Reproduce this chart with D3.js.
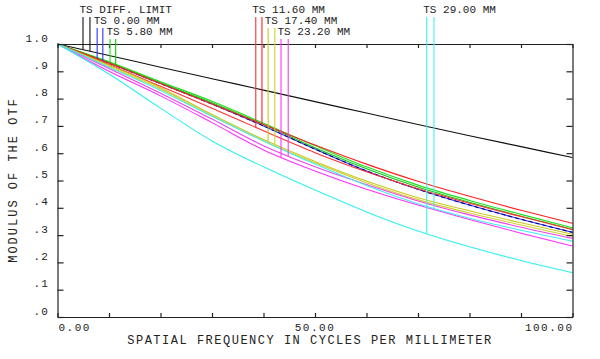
<!DOCTYPE html>
<html>
<head>
<meta charset="utf-8">
<script src="https://cdn.jsdelivr.net/npm/d3@7"></script>
<style>
  body { margin: 0; background: #fff; }
  text { font-family: "Liberation Mono", "DejaVu Sans Mono", monospace; fill: #222; }
</style>
</head>
<body>
<div id="mtf-graph"></div>
<script>
// spatial frequency samples (cycles/mm)
var freq = [0, 10, 20, 30, 40, 50, 60, 70, 80, 90, 100];

// modulus of the OTF
var diffLimit = [1, 0.958, 0.915, 0.873, 0.831, 0.789, 0.747, 0.705, 0.664, 0.624, 0.584];
var ts000T  = [1, 0.930, 0.855, 0.780, 0.700, 0.615, 0.535, 0.468, 0.410, 0.358, 0.310];
var ts000S  = [1, 0.930, 0.855, 0.780, 0.700, 0.615, 0.535, 0.468, 0.410, 0.358, 0.310];
var ts580T  = [1, 0.935, 0.862, 0.790, 0.710, 0.628, 0.550, 0.483, 0.427, 0.376, 0.327];
var ts580S  = [1, 0.932, 0.858, 0.785, 0.705, 0.620, 0.543, 0.476, 0.420, 0.369, 0.321];
var ts1160T = [1, 0.925, 0.845, 0.765, 0.682, 0.602, 0.532, 0.470, 0.417, 0.368, 0.320];
var ts1160S = [1, 0.930, 0.855, 0.780, 0.705, 0.630, 0.560, 0.497, 0.442, 0.391, 0.343];
var ts1740T = [1, 0.922, 0.840, 0.742, 0.650, 0.570, 0.498, 0.437, 0.389, 0.345, 0.303];
var ts1740S = [1, 0.918, 0.835, 0.737, 0.645, 0.565, 0.492, 0.430, 0.381, 0.337, 0.295];
var ts2320T = [1, 0.900, 0.810, 0.712, 0.612, 0.535, 0.468, 0.410, 0.357, 0.307, 0.260];
var ts2320S = [1, 0.910, 0.820, 0.725, 0.627, 0.550, 0.485, 0.425, 0.374, 0.329, 0.288];
var ts2900T = [1, 0.890, 0.765, 0.645, 0.550, 0.465, 0.385, 0.315, 0.257, 0.207, 0.162];
var ts2900S = [1, 0.915, 0.830, 0.735, 0.645, 0.560, 0.482, 0.415, 0.362, 0.318, 0.278];

// legend labels and where their two marker lines drop (cycles/mm)
var markerLabels = ["TS DIFF. LIMIT", "TS 0.00 MM", "TS 5.80 MM", "TS 11.60 MM", "TS 17.40 MM", "TS 23.20 MM", "TS 29.00 MM"];
var markerFreqs = [[4.95, 6.3], [7.7, 8.8], [10.2, 11.3], [38.5, 39.7], [40.9, 42.2], [43.4, 44.8], [71.7, 73.1]];
var markerRows = [0, 1, 2, 0, 1, 2, 0];

// tick labels
var xTickValues = [0, 50, 100];
var xTickLabels = ["0.00", "50.00", "100.00"];
var yTickValues = [0, 0.1, 0.2, 0.3, 0.4, 0.5, 0.6, 0.7, 0.8, 0.9, 1.0];
var yTickLabels = [".0", ".1", ".2", ".3", ".4", ".5", ".6", ".7", ".8", ".9", "1.0"];

var series = [
    { key: "diff", color: "#111111", values: diffLimit },
    { key: "t000", color: "#3030ff", values: ts000T },
    { key: "s000", color: "#000080", values: ts000S, dash: "4,3" },
    { key: "t580", color: "#20e020", values: ts580T },
    { key: "s580", color: "#10c810", values: ts580S },
    { key: "t1160", color: "#ff3030", values: ts1160T },
    { key: "s1160", color: "#ff2020", values: ts1160S },
    { key: "t1740", color: "#c8c820", values: ts1740T },
    { key: "s1740", color: "#d0d030", values: ts1740S },
    { key: "t2320", color: "#ff30ff", values: ts2320T },
    { key: "s2320", color: "#f040f0", values: ts2320S },
    { key: "t2900", color: "#30f0f0", values: ts2900T },
    { key: "s2900", color: "#40f0f0", values: ts2900S }
];
// which curve each marker line ends on
var markerCurves = [["diff", "diff"], ["t000", "s000"], ["t580", "s580"], ["t1160", "s1160"],
                    ["t1740", "s1740"], ["t2320", "s2320"], ["t2900", "s2900"]];

var width = 600, height = 359;
var svg = d3.select("#mtf-graph").append("svg")
    .attr("width", width)
    .attr("height", height);

var x = d3.scaleLinear().domain([0, 100]).range([57.5, 572.5]);
var y = d3.scaleLinear().domain([0, 1]).range([317, 44]);

var line = d3.line()
    .x(function (d) { return x(d[0]); })
    .y(function (d) { return y(d[1]); })
    .curve(d3.curveMonotoneX);

// curves
var paths = {};
series.forEach(function (s) {
    var pts = freq.map(function (f, i) { return [f, s.values[i]]; });
    var p = svg.append("path")
        .datum(pts)
        .attr("fill", "none")
        .attr("stroke", s.color)
        .attr("stroke-width", 1.1)
        .attr("stroke-dasharray", s.dash || null)
        .attr("d", line);
    paths[s.key] = p.node();
});

// find y on a drawn path at a given x
function yOnPath(node, px) {
    var lo = 0, hi = node.getTotalLength(), pt;
    for (var k = 0; k < 40; k++) {
        var mid = (lo + hi) / 2;
        pt = node.getPointAtLength(mid);
        if (pt.x < px) lo = mid; else hi = mid;
    }
    return pt.y;
}

// axes as a closed frame with inward ticks
var xTicks = d3.range(0, 101, 10);
svg.append("g")
    .attr("transform", "translate(0," + y(0) + ")")
    .call(d3.axisBottom(x).tickValues(xTicks).tickSizeInner(-4).tickSizeOuter(0).tickFormat(""));
svg.append("g")
    .attr("transform", "translate(0," + y(1) + ")")
    .call(d3.axisTop(x).tickValues(xTicks).tickSizeInner(-4).tickSizeOuter(0).tickFormat(""));
svg.append("g")
    .attr("transform", "translate(" + x(0) + ",0)")
    .call(d3.axisLeft(y).tickValues(yTickValues).tickSizeInner(-6).tickSizeOuter(0).tickFormat(""));
svg.append("g")
    .attr("transform", "translate(" + x(100) + ",0)")
    .call(d3.axisRight(y).tickValues(yTickValues).tickSizeInner(-6).tickSizeOuter(0).tickFormat(""));
svg.selectAll(".domain, .tick line").attr("stroke", "#222").attr("stroke-width", 1.2);

// tick labels
svg.selectAll(".xlab")
    .data(xTickValues)
    .enter().append("text")
    .attr("x", function (d) { return x(d); })
    .attr("y", 330.5)
    .attr("font-size", 11)
    .attr("letter-spacing", 1.5)
    .attr("text-anchor", function (d, i) { return i === 0 ? "start" : (i === 2 ? "end" : "middle"); })
    .attr("dx", function (d, i) { return i === 0 ? 1 : (i === 2 ? 1 : 0); })
    .text(function (d, i) { return xTickLabels[i]; });

svg.selectAll(".ylab")
    .data(yTickValues)
    .enter().append("text")
    .attr("x", 49)
    .attr("y", function (d) { return y(d) - 2.5; })
    .attr("font-size", 11)
    .attr("letter-spacing", 1.2)
    .attr("text-anchor", "end")
    .text(function (d, i) { return yTickLabels[i]; });

// axis titles
svg.append("text")
    .attr("x", 310)
    .attr("y", 344)
    .attr("font-size", 12)
    .attr("letter-spacing", 1.5)
    .attr("text-anchor", "middle")
    .text("SPATIAL FREQUENCY IN CYCLES PER MILLIMETER");

svg.append("text")
    .attr("transform", "translate(16.5,180) rotate(-90)")
    .attr("font-size", 12)
    .attr("letter-spacing", 2)
    .attr("text-anchor", "middle")
    .text("MODULUS OF THE OTF");

// legend labels with marker lines dropping onto the curves
var rowBase = [13, 24, 35];
markerLabels.forEach(function (label, i) {
    var base = rowBase[markerRows[i]];
    var f = markerFreqs[i];
    svg.append("text")
        .attr("x", x(f[0]) - 3.5)
        .attr("y", base)
        .attr("font-size", 11)
        .text(label);
    f.forEach(function (fv, j) {
        var key = markerCurves[i][j];
        var col = series.filter(function (s) { return s.key === key; })[0].color;
        svg.append("line")
            .attr("x1", x(fv)).attr("x2", x(fv))
            .attr("y1", base + 4)
            .attr("y2", yOnPath(paths[key], x(fv)))
            .attr("stroke", key === "s000" ? "#3030ff" : col)
            .attr("stroke-width", 1.1);
    });
});
</script>
</body>
</html>
